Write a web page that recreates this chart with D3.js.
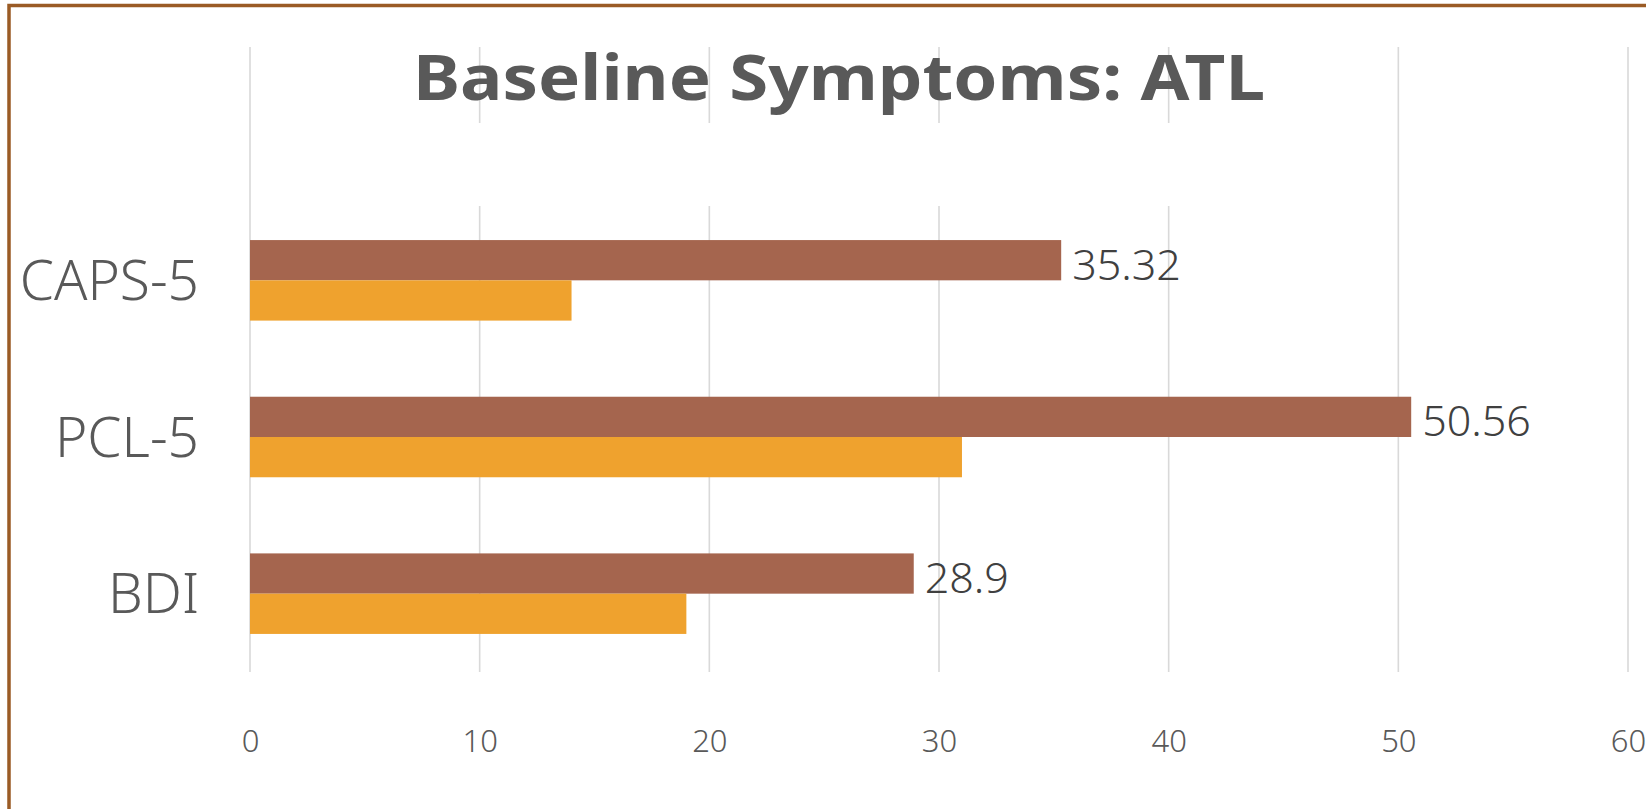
<!DOCTYPE html>
<html>
<head>
<meta charset="utf-8">
<script src="https://cdn.jsdelivr.net/npm/d3@7"></script>
<style>
  html, body { margin: 0; padding: 0; background: #ffffff; }
  svg { display: block; }
</style>
</head>
<body>
<svg id="chart" width="1646" height="809"></svg>
<script>
// Measures shown on the category axis, top to bottom
const categories = ["CAPS-5", "PCL-5", "BDI"];
// Two series per measure: the labelled (brown) one and the unlabelled (orange) one
const seriesNames = ["Baseline", "Comparison"];
const baselineValues = [35.32, 50.56, 28.9];
const comparisonValues = [14, 31, 19];
const tickValues = [0, 10, 20, 30, 40, 50, 60];
const titleText = "Baseline Symptoms: ATL";

const rows = categories.map((c, i) => ({
  category: c,
  values: [
    { key: seriesNames[0], value: baselineValues[i] },
    { key: seriesNames[1], value: comparisonValues[i] }
  ]
}));

const colors = d3.scaleOrdinal().domain(seriesNames).range(["#A5654E", "#EFA22E"]);

const svg = d3.select("#chart");
const W = 1646, H = 809;

// Chart frame
svg.append("rect")
  .attr("x", 9).attr("y", 5.5)
  .attr("width", W + 40).attr("height", H + 40)
  .attr("fill", "#ffffff")
  .attr("stroke", "#9A5B25")
  .attr("stroke-width", 3.5);

const x = d3.scaleLinear().domain([0, 60]).range([250, 1628]);
const y = d3.scaleBand().domain(categories).range([202, 672])
  .paddingInner(0.486).paddingOuter(0.243);
const ySub = d3.scaleBand().domain(seriesNames).range([0, y.bandwidth()]);

const gridTop = 47, gridBottom = 672;

// Vertical gridlines
svg.append("g")
  .selectAll("line")
  .data(tickValues)
  .join("line")
  .attr("x1", d => x(d)).attr("x2", d => x(d))
  .attr("y1", gridTop).attr("y2", gridBottom)
  .attr("stroke", "#D9D9D9")
  .attr("stroke-width", 1.6);

// Blank panel under the title
svg.append("rect")
  .attr("x", x(0) + 2).attr("y", 123)
  .attr("width", x(50) - x(0) - 4).attr("height", 83)
  .attr("fill", "#ffffff");

// Bars
const groups = svg.append("g")
  .selectAll("g")
  .data(rows)
  .join("g")
  .attr("transform", d => `translate(0,${y(d.category)})`);

groups.selectAll("rect")
  .data(d => d.values)
  .join("rect")
  .attr("x", x(0))
  .attr("y", d => ySub(d.key))
  .attr("width", d => x(d.value) - x(0))
  .attr("height", ySub.bandwidth())
  .attr("fill", d => colors(d.key));

// Value labels on the baseline bars
groups.append("text")
  .attr("x", d => x(d.values[0].value) + 11)
  .attr("y", d => ySub(seriesNames[0]) + ySub.bandwidth() / 2 + 4)
  .attr("dy", "0.36em")
  .attr("font-family", "'Noto Sans', sans-serif")
  .attr("font-weight", 300)
  .attr("font-size", 43)
  .attr("fill", "#404040")
  .text(d => d.values[0].value);

// Category axis labels
svg.append("g")
  .attr("transform", "translate(199,0)")
  .call(d3.axisLeft(y).tickSize(0).tickPadding(0))
  .call(g => g.select(".domain").remove())
  .call(g => g.selectAll("text")
    .attr("font-family", "'Noto Sans', sans-serif")
    .attr("font-weight", 300)
    .attr("font-size", 55)
    .attr("fill", "#595959")
    .attr("dy", "0.36em"));

// Value axis labels
svg.append("g")
  .attr("transform", `translate(0,${gridBottom})`)
  .call(d3.axisBottom(x).tickValues(tickValues).tickSize(0).tickPadding(58))
  .call(g => g.select(".domain").remove())
  .call(g => g.selectAll("text")
    .attr("font-family", "'Noto Sans', sans-serif")
    .attr("font-weight", 300)
    .attr("font-size", 31)
    .attr("fill", "#595959"));

// Title
svg.append("text")
  .attr("x", 839).attr("y", 100)
  .attr("text-anchor", "middle")
  .attr("font-family", "'Noto Sans', sans-serif")
  .attr("font-weight", "bold")
  .attr("font-size", 63)
  .attr("textLength", 852)
  .attr("lengthAdjust", "spacingAndGlyphs")
  .attr("fill", "#595959")
  .text(titleText);
</script>
</body>
</html>
